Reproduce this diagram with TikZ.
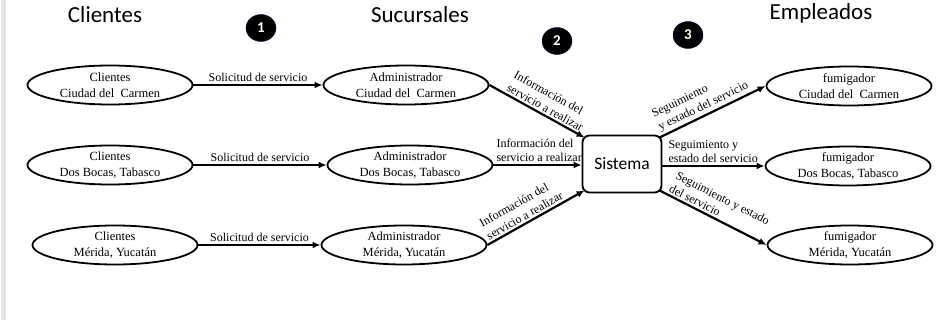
\documentclass[tikz,border=0pt]{standalone}
\usepackage{fontspec}
\setmainfont{Liberation Serif}
\newfontfamily\headfont{Carlito}
\usetikzlibrary{arrows.meta,shapes.geometric}
\begin{document}
\begin{tikzpicture}[x=1pt,y=-1pt,
  party/.style={ellipse, draw, line width=1.8pt, minimum width=165pt, minimum height=39pt,
    inner sep=0pt, align=center, font=\fontsize{12.5}{16}\selectfont},
  hub/.style={draw, rounded corners=7pt, line width=1.8pt, minimum width=79pt,
    minimum height=57pt, font=\headfont\fontsize{17.5}{20}\selectfont},
  heading/.style={font=\headfont\fontsize{23}{26}\selectfont},
  badge/.style={ellipse, fill=black, draw=black!70!blue, minimum width=30pt, minimum height=27pt,
    inner sep=0pt, text=white, font=\headfont\bfseries\fontsize{15}{16}\selectfont},
  flow/.style={line width=2.2pt, -{Latex[length=8pt,width=7pt]}},
  lbl/.style={font=\fontsize{12}{14.5}\selectfont, inner sep=2pt, align=left},
]
\useasboundingbox (0,0) rectangle (939,320);
% left margin strip
\fill[black!11] (1,0) rectangle (6,320);

% column headings and step badges
\node[heading] (hc) at (105,15) {Clientes};
\node[heading] (hs) at (420,15) {Sucursales};
\node[heading] (he) at (821,13) {Empleados};
\node[badge] (b1) at (261,28) {1};
\node[badge] (b2) at (557,41) {2};
\node[badge] (b3) at (688,35) {3};

% clients
\node[party] (c1) at (110,85) {Clientes\\Ciudad del\ \ Carmen};
\node[party] (c2) at (110,165) {Clientes\\Dos Bocas, Tabasco};
\node[party] (c3) at (115,245) {Clientes\\Mérida, Yucatán};

% branch managers
\node[party] (a1) at (406,85) {Administrador\\Ciudad del\ \ Carmen};
\node[party] (a2) at (410,165) {Administrador\\Dos Bocas, Tabasco};
\node[party] (a3) at (404,245) {Administrador\\Mérida, Yucatán};

% central system
\node[hub] (sis) at (622,164) {Sistema};

% field workers
\node[party] (f1) at (849,86) {fumigador\\Ciudad del\ \ Carmen};
\node[party] (f2) at (848,166) {fumigador\\Dos Bocas, Tabasco};
\node[party] (f3) at (850,245) {fumigador\\Mérida, Yucatán};

% service requests
\draw[flow] (c1.east) -- node[lbl, above] {Solicitud de servicio} (a1.west);
\draw[flow] (c2.east) -- node[lbl, above] {Solicitud de servicio} (a2.west);
\draw[flow] (c3.east) -- node[lbl, above] {Solicitud de servicio} (a3.west);

% branches to system
\draw[flow] (a1.east) -- node[lbl, sloped, above, pos=0.55]
  {Información del\\servicio a realizar} ([shift={(3,3)}]sis.north west);
\draw[flow] (a2.east) -- node[lbl, pos=0, anchor=south west]
  {Información del\\servicio a realizar} (sis.west |- a2.east);
\draw[flow] (a3.east) -- node[lbl, sloped, above, pos=0.42]
  {Información del\\servicio a realizar} ([shift={(3,-3)}]sis.south west);

% system to workers
\draw[flow] ([shift={(-3,3)}]sis.north east) -- node[lbl, sloped, above, pos=0.45]
  {Seguimiento\\y estado del servicio} (f1.west);
\draw[flow] (sis.east |- f2.west) -- node[lbl, pos=0, anchor=south west, xshift=3pt]
  {Seguimiento y\\estado del servicio} (f2.west);
\draw[flow] ([shift={(-3,-3)}]sis.south east) -- node[lbl, sloped, above, pos=0.5]
  {Seguimiento y estado\\del servicio} (f3.west);
\end{tikzpicture}
\end{document}
